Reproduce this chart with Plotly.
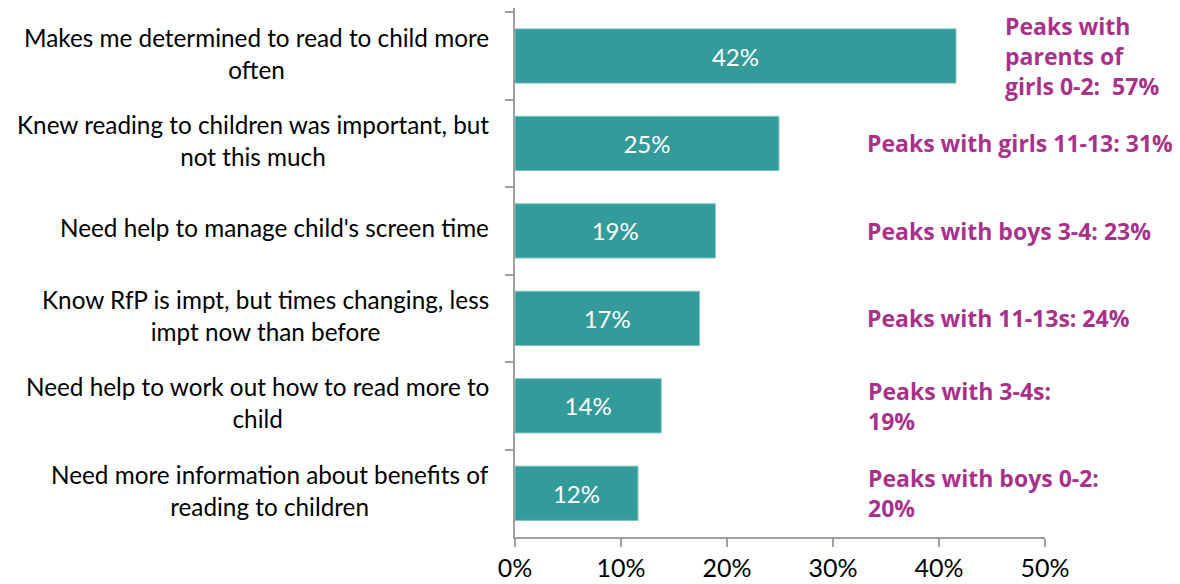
import plotly.graph_objects as go

categories = [
    "Makes me determined to read to child more<br>often",
    "Knew reading to children was important, but<br>not this much",
    "Need help to manage child's screen time",
    "Know RfP is impt, but times changing, less<br>impt now than before",
    "Need help to work out how to read more to<br>child",
    "Need more information about benefits of<br>reading to children",
]
values = [41.6, 24.9, 18.9, 17.4, 13.8, 11.6]
value_labels = ["42%", "25%", "19%", "17%", "14%", "12%"]
peak_notes = [
    "Peaks with<br>parents of<br>girls 0-2:  57%",
    "Peaks with girls 11-13: 31%",
    "Peaks with boys 3-4: 23%",
    "Peaks with 11-13s: 24%",
    "Peaks with 3-4s:<br>19%",
    "Peaks with boys 0-2:<br>20%",
]
note_x = [46.0, 33.0, 33.0, 33.0, 33.1, 33.1]

fig = go.Figure(go.Bar(
    x=values, y=categories, orientation="h",
    marker=dict(color="#339B99", line=dict(color="#7CC3C2", width=1)),
    text=value_labels, textposition="inside", insidetextanchor="middle",
    textfont=dict(color="white", size=24, family="Lato"),
    width=0.62,
))

for cat, note, nx in zip(categories, peak_notes, note_x):
    fig.add_annotation(x=nx, y=cat, xref="x", yref="y", text="<b>" + note + "</b>",
                       showarrow=False, xanchor="left", yanchor="middle", align="left",
                       font=dict(color="#A8318A", size=23, family="Open Sans"))

for cat in categories:
    fig.add_annotation(x=0, y=cat, xref="paper", yref="y", text=cat, xshift=-24, yshift=3,
                       showarrow=False, xanchor="right", yanchor="middle", align="center",
                       font=dict(color="black", size=24.3, family="Lato"))

fig.update_layout(
    width=1180, height=584,
    margin=dict(l=507, r=143, t=0, b=55),
    plot_bgcolor="white", paper_bgcolor="white",
    showlegend=False,
    font=dict(family="Lato", color="black"),
)
fig.update_xaxes(range=[0, 50], dtick=10, ticksuffix="%", showgrid=False, zeroline=False,
                 showline=True, linecolor="#A0A0A0", linewidth=1.5,
                 ticks="outside", ticklen=8, tickcolor="#A0A0A0", tickwidth=1.5,
                 tickfont=dict(size=25, family="Lato", color="black"))
fig.update_yaxes(autorange="reversed", showgrid=False, showline=True, linecolor="#A0A0A0",
                 linewidth=1.5, ticks="outside", tickson="boundaries", ticklen=8,
                 tickcolor="#A0A0A0", tickwidth=1.5, showticklabels=False)

fig.write_html("out.html")
